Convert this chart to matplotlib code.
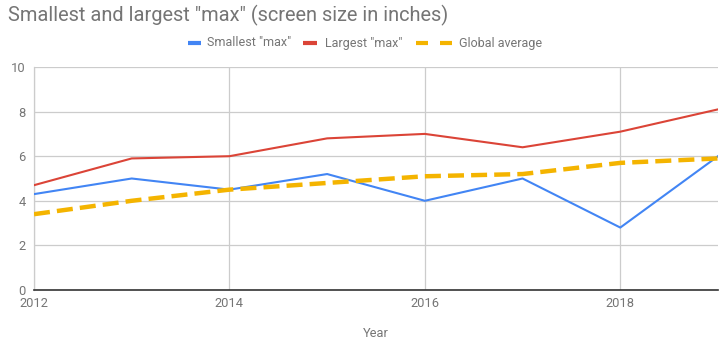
import matplotlib
matplotlib.use("Agg")
import matplotlib.pyplot as plt
from matplotlib.lines import Line2D

years = [2012, 2013, 2014, 2015, 2016, 2017, 2018, 2019]
smallest_max = [4.3, 5.0, 4.5, 5.2, 4.0, 5.0, 2.8, 6.0]
largest_max = [4.7, 5.9, 6.0, 6.8, 7.0, 6.4, 7.1, 8.1]
global_average = [3.4, 4.0, 4.5, 4.8, 5.1, 5.2, 5.7, 5.9]
x_ticks = [2012, 2014, 2016, 2018]
y_ticks = [0, 2, 4, 6, 8, 10]
series_names = ['Smallest "max"', 'Largest "max"', 'Global average']
series_colors = ['#4285F4', '#DB4437', '#F4B400']

plt.rcParams['font.family'] = ['Roboto', 'DejaVu Sans']
text_gray = '#757575'
grid_gray = '#cccccc'
W, H = 727, 340

fig = plt.figure(figsize=(W / 100, H / 100), dpi=100)
ax = fig.add_axes([34 / W, 1 - 290 / H, (718 - 34) / W, (290 - 67) / H])

ax.plot(years, smallest_max, color=series_colors[0], lw=1.5, zorder=3)
ax.plot(years, largest_max, color=series_colors[1], lw=1.5, zorder=3)
ax.plot(years, global_average, color=series_colors[2], lw=3.2, dashes=(3.6, 1.6), zorder=4)

ax.set_xlim(2012, 2019)
ax.set_ylim(0, 10)
ax.set_xticks(x_ticks)
ax.set_yticks(y_ticks)
ax.set_xticklabels([str(t) for t in x_ticks])
ax.grid(True, color=grid_gray, lw=0.9)
ax.set_axisbelow(True)
for side in ['top', 'right']:
    ax.spines[side].set_visible(False)
ax.spines['left'].set_color(grid_gray)
ax.spines['left'].set_linewidth(0.9)
ax.spines['bottom'].set_color('#333333')
ax.spines['bottom'].set_linewidth(1.2)
ax.tick_params(axis='both', length=0, colors=text_gray, labelsize=9.3)
ax.tick_params(axis='x', pad=5)
ax.tick_params(axis='y', pad=6)

ax.set_xlabel('Year', color=text_gray, fontsize=9.3, labelpad=12)

fig.text(8 / W, 1 - 15 / H, 'Smallest and largest "max" (screen size in inches)',
         fontsize=14.4, color=text_gray, ha='left', va='center')

# Legend drawn as short thick swatches followed by labels
leg_y = 1 - 43 / H
swatches = [[(188, 201)], [(303, 317)], [(416, 428), (440, 452)]]
label_x = [207, 325, 459]
for segs, color, name, lx in zip(swatches, series_colors, series_names, label_x):
    for x0, x1 in segs:
        fig.add_artist(Line2D([x0 / W, x1 / W], [leg_y, leg_y], transform=fig.transFigure,
                              color=color, lw=3, solid_capstyle='butt'))
    fig.text(lx / W, leg_y, name, fontsize=9, color=text_gray, ha='left', va='center')

fig.savefig('out.png', dpi=100)
